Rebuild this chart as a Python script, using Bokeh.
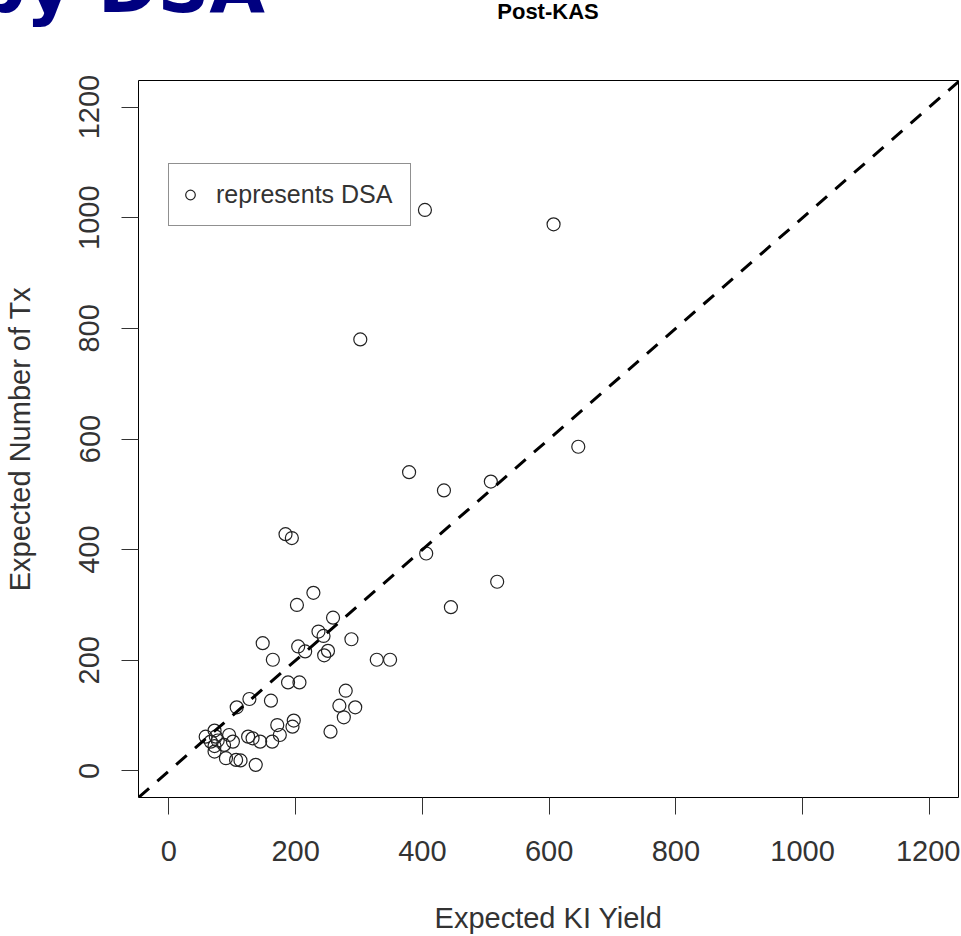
from bokeh.plotting import figure
from bokeh.models import Range1d, FixedTicker, Slope, Div
from bokeh.layouts import column
from bokeh.embed import file_html
from bokeh.resources import INLINE

# ---- data ----
ki_yield = [404, 607, 302, 646, 379, 434, 508, 406, 518, 445,
            184, 194, 228, 202, 259, 236, 244, 288, 148, 204,
            215, 251, 245, 164, 328, 349, 188, 206, 279, 269,
            294, 276, 255, 161, 127, 107, 171, 197, 195, 175,
            163, 144, 125, 132, 95, 101, 87, 58, 72, 74,
            77, 66, 72, 72, 90, 106, 113, 137]
expected_tx = [1014, 988, 780, 586, 540, 507, 523, 393, 342, 296,
               428, 421, 322, 300, 277, 252, 244, 238, 231, 225,
               216, 217, 209, 201, 201, 201, 160, 160, 145, 118,
               115, 97, 71, 127, 130, 115, 83, 91, 80, 65,
               53, 53, 62, 59, 65, 53, 47, 62, 73, 62,
               55, 53, 45, 35, 23, 20, 19, 11]
tick_values = [0, 200, 400, 600, 800, 1000, 1200]

TITLE = "Post-KAS"
HEADER = "by DSA"
XLABEL = "Expected KI Yield"
YLABEL = "Expected Number of Tx"
LEGEND = "represents DSA"

# ---- layout ----
W = 960
HEAD_H = 33
H = 936 - HEAD_H
FL, FT, FR, FB = 138, 47, 2, 139
X0, X1 = -48, 1246
Y0, Y1 = -48, 1248

FONT = "Liberation Sans"
TXT = "#333333"

header_html = (
    f'<div style="position:relative;width:{W}px;height:{HEAD_H}px;overflow:hidden;">'
    f'<span style="position:absolute;right:{W - 265}px;top:-49px;white-space:nowrap;'
    f"font-family:'DejaVu Sans';font-weight:bold;font-size:72px;line-height:72px;"
    f'color:#000080;">{HEADER}</span>'
    f'<span style="position:absolute;left:348px;width:400px;top:1px;text-align:center;'
    f"white-space:nowrap;font-family:'Liberation Sans';font-weight:bold;font-size:22px;"
    f'line-height:22px;color:#000000;">{TITLE}</span>'
    f'</div>'
)
head = Div(text=header_html, width=W, height=HEAD_H, margin=0,
           styles={"overflow": "hidden"})

p = figure(width=W, height=H, output_backend="svg", toolbar_location=None,
           x_range=Range1d(X0, X1), y_range=Range1d(Y0, Y1),
           min_border_left=FL, min_border_top=FT, min_border_right=FR,
           min_border_bottom=FB, margin=0)
p.background_fill_color = "white"
p.border_fill_color = "white"
p.outline_line_color = "black"
p.outline_line_width = 1
p.xgrid.visible = False
p.ygrid.visible = False

for ax in (p.xaxis[0], p.yaxis[0]):
    ax.ticker = FixedTicker(ticks=tick_values)
    ax.axis_line_color = None
    ax.major_tick_out = 17
    ax.major_tick_in = 0
    ax.minor_tick_out = 0
    ax.minor_tick_in = 0
    ax.major_tick_line_color = "#333333"
    ax.major_label_text_font = FONT
    ax.major_label_text_font_size = "29px"
    ax.major_label_text_color = TXT
    ax.axis_label_text_font = FONT
    ax.axis_label_text_font_size = "29px"
    ax.axis_label_text_font_style = "normal"
    ax.axis_label_text_color = TXT

p.xaxis[0].axis_label = XLABEL
p.yaxis[0].axis_label = YLABEL
p.xaxis[0].major_label_standoff = 26
p.yaxis[0].major_label_standoff = 22
p.yaxis[0].major_label_orientation = "vertical"
p.xaxis[0].axis_label_standoff = 38
p.yaxis[0].axis_label_standoff = 41

# y = x reference line
p.add_layout(Slope(gradient=1, y_intercept=0, line_color="black",
                   line_width=3, line_dash="14 11"))

p.scatter(ki_yield, expected_tx, marker="circle", size=13,
          fill_color=None, line_color="#222222", line_width=1.2,
          legend_label=LEGEND)

lg = p.legend[0]
lg.location = (30, 571)
lg.border_line_color = "#222222"
lg.border_line_width = 1
lg.background_fill_color = "white"
lg.background_fill_alpha = 1
lg.padding = 9
lg.margin = 0
lg.spacing = 0
lg.glyph_width = 24
lg.glyph_height = 43
lg.label_standoff = 14
lg.label_width = 185
lg.label_text_font = FONT
lg.label_text_font_size = "25px"
lg.label_text_color = TXT

layout = column(head, p, spacing=0, margin=0)
open("out.html", "w").write(file_html(layout, INLINE))
